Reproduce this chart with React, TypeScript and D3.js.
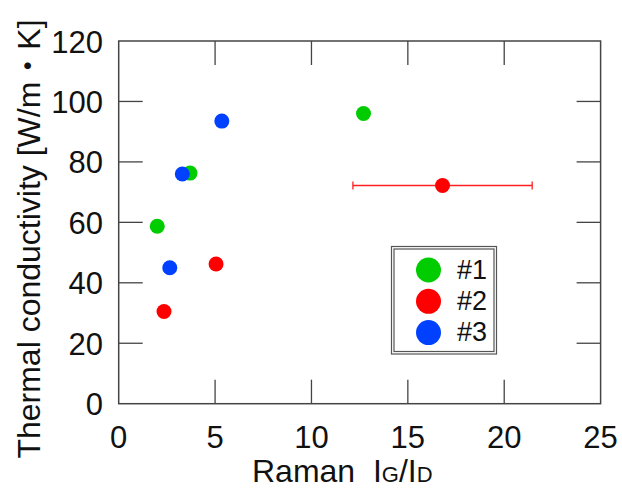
import React from "react";
import * as d3 from "d3";

const seriesNames = ["#1", "#2", "#3"];
const seriesColors = ["#00cc00", "#ff0000", "#0040ff"];
const s1x = [2.0, 3.7, 12.7];
const s1y = [58.7, 76.3, 96.0];
const s2x = [2.35, 5.05, 16.8];
const s2y = [30.5, 46.2, 72.2];
const s3x = [2.65, 3.3, 5.35];
const s3y = [45.0, 76.0, 93.5];
// error bar on the last #2 point (x range)
const errIndex = 2;
const errLow = [12.15];
const errHigh = [21.45];
const xTicks = [0, 5, 10, 15, 20, 25];
const yTicks = [0, 20, 40, 60, 80, 100, 120];

const W = 622, H = 488;
const L = 118.7, R = 600.6, T = 41, B = 403.7;
const font = "'Liberation Sans', Arial, 'Noto Sans CJK JP', sans-serif";

export default function App() {
  const x = d3.scaleLinear().domain([0, 25]).range([L, R]);
  const y = d3.scaleLinear().domain([0, 120]).range([B, T]);
  const series = [
    { xs: s1x, ys: s1y },
    { xs: s2x, ys: s2y },
    { xs: s3x, ys: s3y },
  ];
  const tickLen = 24;
  const axisColor = "#444";
  const ex0 = x(errLow[0]), ex1 = x(errHigh[0]), ey = y(s2y[errIndex]);
  return (
    <svg width={W} height={H} style={{ position: "absolute", left: 0, top: 0, background: "#fff" }}>
      <rect x={0} y={0} width={W} height={H} fill="#fff" />
      {xTicks.map((t, i) => (
        <g key={"xt" + i}>
          {t > 0 && t < 25 && (
            <>
              <line x1={x(t)} x2={x(t)} y1={B} y2={B - tickLen} stroke={axisColor} strokeWidth={1.3} />
              <line x1={x(t)} x2={x(t)} y1={T} y2={T + tickLen} stroke={axisColor} strokeWidth={1.3} />
            </>
          )}
          <text x={x(t)} y={448} textAnchor="middle" fontFamily={font} fontSize={31} fill="#111">{t}</text>
        </g>
      ))}
      {yTicks.map((t, i) => (
        <g key={"yt" + i}>
          {t > 0 && t < 120 && (
            <>
              <line x1={L} x2={L + tickLen} y1={y(t)} y2={y(t)} stroke={axisColor} strokeWidth={1.3} />
              <line x1={R} x2={R - tickLen} y1={y(t)} y2={y(t)} stroke={axisColor} strokeWidth={1.3} />
            </>
          )}
          <text x={103} y={y(t) + 11.5} textAnchor="end" fontFamily={font} fontSize={31} fill="#111">{t}</text>
        </g>
      ))}
      <rect x={L} y={T} width={R - L} height={B - T} fill="none" stroke={axisColor} strokeWidth={1.5} />
      <g stroke="#ff2020" strokeWidth={1.3}>
        <line x1={ex0} x2={ex1} y1={ey} y2={ey} />
        <line x1={ex0} x2={ex0} y1={ey - 4} y2={ey + 4} />
        <line x1={ex1} x2={ex1} y1={ey - 4} y2={ey + 4} />
      </g>
      {series.map((s, si) =>
        s.xs.map((xv, i) => (
          <circle key={si + "-" + i} cx={x(xv)} cy={y(s.ys[i])} r={7.5} fill={seriesColors[si]} />
        ))
      )}
      <rect x={391.5} y={246.5} width={105} height={107.5} fill="#fff" stroke="#555" strokeWidth={1.2} />
      <rect x={394} y={249} width={100} height={102.5} fill="none" stroke="#555" strokeWidth={1.2} />
      {seriesNames.map((n, i) => (
        <g key={n}>
          <circle cx={428.5} cy={270 + i * 31.3} r={12.5} fill={seriesColors[i]} />
          <text x={457} y={278.5 + i * 31.3} fontFamily={font} fontSize={27} fill="#111">{n}</text>
        </g>
      ))}
      <text x={252} y={482} fontFamily={font} fontSize={32} fill="#111">
        Raman{"\u00a0\u00a0"}I<tspan fontSize={22}>G</tspan>/I<tspan fontSize={22}>D</tspan>
      </text>
      <text transform={`translate(40,239) rotate(-90)`} textAnchor="middle" fontFamily={font} fontSize={32} fill="#111">
        Thermal conductivity [W/m・K]
      </text>
    </svg>
  );
}
